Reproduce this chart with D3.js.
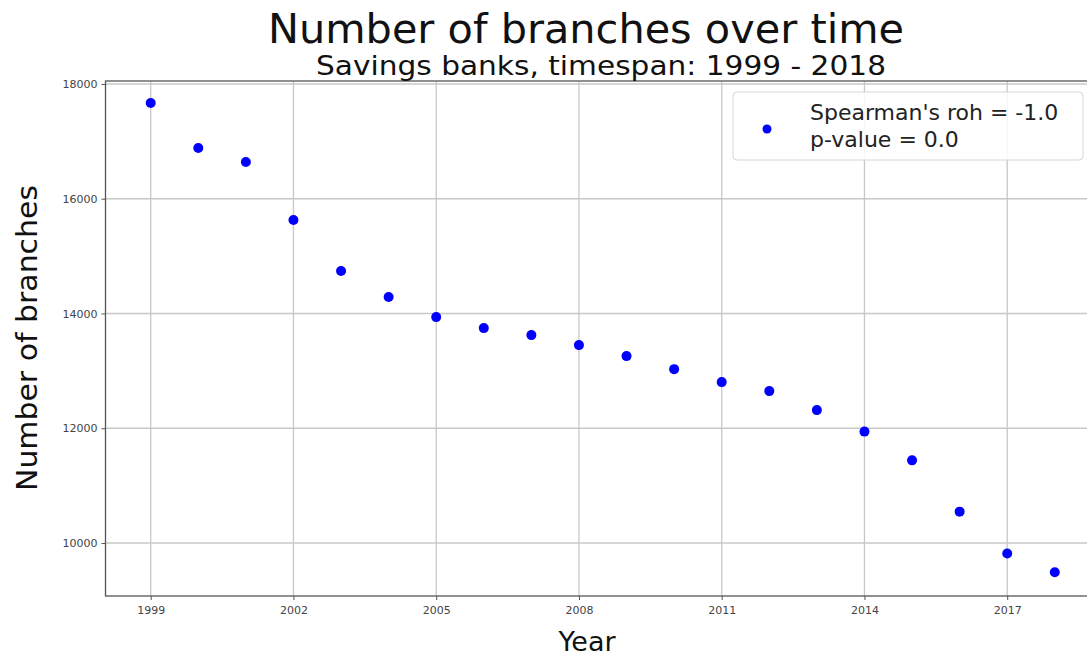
<!DOCTYPE html>
<html>
<head>
<meta charset="utf-8">
<script src="https://cdn.jsdelivr.net/npm/d3@7"></script>
<style>
  body { margin: 0; background: #fff; }
  svg { display: block; font-family: "DejaVu Sans", sans-serif; }
</style>
</head>
<body>
<div id="chart"></div>
<script>
// data
const years = [1999, 2000, 2001, 2002, 2003, 2004, 2005, 2006, 2007, 2008,
               2009, 2010, 2011, 2012, 2013, 2014, 2015, 2016, 2017, 2018];
const branches = [17669, 16884, 16640, 15629, 14739, 14286, 13937, 13745, 13623, 13449,
                  13257, 13030, 12804, 12647, 12316, 11941, 11440, 10546, 9818, 9490];
const xTicks = [1999, 2002, 2005, 2008, 2011, 2014, 2017];
const yTicks = [10000, 12000, 14000, 16000, 18000];
const legendLines = ["Spearman's roh = -1.0", "p-value = 0.0"];

const width = 1087, height = 658;
const margin = { top: 81, right: -13, bottom: 62, left: 105.5 };

const svg = d3.select('#chart').append('svg')
  .attr('width', width)
  .attr('height', height);

// scales (matplotlib style 5% padding)
const x = d3.scaleLinear()
  .domain([1998.05, 2018.95])
  .range([margin.left, width - margin.right]);
const y = d3.scaleLinear()
  .domain([9076, 18052])
  .range([height - margin.bottom, margin.top]);

const plotLeft = margin.left, plotRight = width - margin.right;
const plotTop = margin.top, plotBottom = height - margin.bottom;

// grid
const grid = svg.append('g').attr('class', 'grid');
grid.selectAll('.gx').data(xTicks).enter().append('line')
  .attr('x1', d => x(d)).attr('x2', d => x(d))
  .attr('y1', plotTop).attr('y2', plotBottom)
  .style('stroke', '#c8c8c8').style('stroke-width', '1.3px');
grid.selectAll('.gy').data(yTicks).enter().append('line')
  .attr('x1', plotLeft).attr('x2', plotRight)
  .attr('y1', d => y(d)).attr('y2', d => y(d))
  .style('stroke', '#c8c8c8').style('stroke-width', '1.3px');

// axes
const xAxis = d3.axisBottom(x).tickValues(xTicks).tickFormat(d3.format('d')).tickSize(4).tickPadding(6);
const yAxis = d3.axisLeft(y).tickValues(yTicks).tickFormat(d3.format('d')).tickSize(4).tickPadding(4);

const gx = svg.append('g')
  .attr('transform', `translate(0,${plotBottom})`)
  .call(xAxis);
const gy = svg.append('g')
  .attr('transform', `translate(${plotLeft},0)`)
  .call(yAxis);

[gx, gy].forEach(g => {
  g.select('.domain').remove();
  g.selectAll('.tick line').style('stroke', '#555').style('stroke-width', '1px');
  g.selectAll('.tick text').style('font-size', '11px').style('fill', '#444')
    .style('font-family', '"DejaVu Sans", sans-serif');
});

// frame
svg.append('rect')
  .attr('x', plotLeft).attr('y', plotTop)
  .attr('width', plotRight - plotLeft).attr('height', plotBottom - plotTop)
  .style('fill', 'none').style('stroke', '#555').style('stroke-width', '1.3px');

// points
svg.append('g').selectAll('circle')
  .data(years.map((yr, i) => ({ year: yr, value: branches[i] })))
  .enter().append('circle')
  .attr('cx', d => x(d.year))
  .attr('cy', d => y(d.value))
  .attr('r', 5)
  .style('fill', '#0000ff');

// titles
svg.append('text')
  .attr('x', 586).attr('y', 43)
  .attr('text-anchor', 'middle')
  .attr('textLength', 636).attr('lengthAdjust', 'spacingAndGlyphs')
  .style('font-size', '40px').style('fill', '#111')
  .text('Number of branches over time');
svg.append('text')
  .attr('x', 601).attr('y', 75)
  .attr('text-anchor', 'middle')
  .attr('textLength', 570).attr('lengthAdjust', 'spacingAndGlyphs')
  .style('font-size', '27px').style('fill', '#111')
  .text('Savings banks, timespan: 1999 - 2018');

// axis labels
svg.append('text')
  .attr('x', 587).attr('y', 651)
  .attr('text-anchor', 'middle')
  .style('font-size', '27px').style('fill', '#111')
  .text('Year');
svg.append('text')
  .attr('transform', 'translate(37,338) rotate(-90)')
  .attr('text-anchor', 'middle')
  .attr('textLength', 306).attr('lengthAdjust', 'spacingAndGlyphs')
  .style('font-size', '28px').style('fill', '#111')
  .text('Number of branches');

// legend
const lg = svg.append('g').attr('transform', 'translate(733,92)');
lg.append('rect')
  .attr('width', 350).attr('height', 68).attr('rx', 4)
  .style('fill', '#fff').style('fill-opacity', 0.85)
  .style('stroke', '#d6d6d6').style('stroke-width', '1px');
lg.append('circle').attr('cx', 34).attr('cy', 37).attr('r', 4.5).style('fill', '#0000ff');
lg.selectAll('.lt').data(legendLines).enter().append('text')
  .attr('x', 77).attr('y', (d, i) => 28 + i * 27)
  .style('font-size', '22px').style('fill', '#222')
  .text(d => d);
</script>
</body>
</html>
